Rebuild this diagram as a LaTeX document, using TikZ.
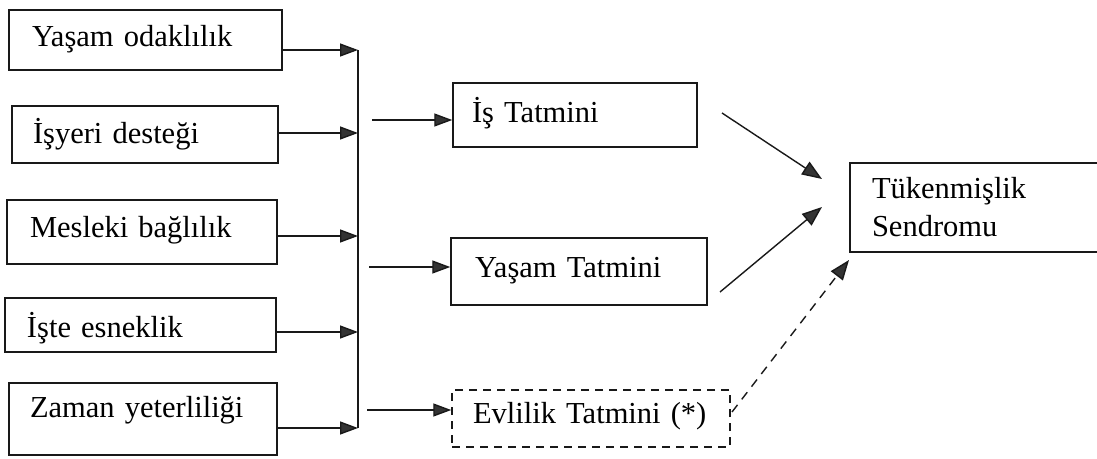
\documentclass[tikz,border=0pt]{standalone}
\usepackage{fontspec}
\setmainfont[WordSpace=0.75]{Liberation Serif}
\usetikzlibrary{arrows.meta}
\tikzset{
  box/.style={draw=black!90, line width=1.5pt, inner xsep=0pt, inner ysep=0pt,
    font=\fontsize{30.5pt}{38pt}\selectfont, text height=26pt},
  dbox/.style={box, dash pattern=on 8pt off 6pt},
  tbox/.style={draw=none, inner xsep=22pt, inner ysep=0pt,
    font=\fontsize{30.5pt}{38pt}\selectfont},
  frame/.style={line width=1.5pt, draw=black!90},
  arr/.style={line width=1.4pt, draw=black!90,
    -{Triangle[length=18pt,width=13pt,fill=black!80]}},
  bigarr/.style={line width=1.4pt, draw=black!90,
    -{Triangle[length=20pt,width=15pt,fill=black!80]}},
  darr/.style={bigarr, dash pattern=on 9pt off 7pt},
  bus/.style={line width=1.4pt, draw=black!90}
}
\begin{document}
\begin{tikzpicture}[x=1pt, y=-1pt]
  \fill[white] (0,0) rectangle (1097,458);
  \useasboundingbox (0,0) rectangle (1097,458);

  % left column: the five antecedents
  \node[box, minimum width=273pt, minimum height=60pt, text width=227pt, text depth=13pt]
    (b1) at (145.5,40) {Yaşam odaklılık};
  \node[box, minimum width=266pt, minimum height=57pt, text width=224pt, text depth=8pt]
    (b2) at (145,134.5) {İşyeri desteği};
  \node[box, minimum width=270pt, minimum height=64pt, text width=224pt, text depth=15pt]
    (b3) at (142,232) {Mesleki bağlılık};
  \node[box, minimum width=271pt, minimum height=54pt, text width=227pt, text depth=1pt]
    (b4) at (140.5,325) {İşte esneklik};
  \node[box, minimum width=268pt, minimum height=72pt, text width=226pt, text depth=29pt]
    (b5) at (143,419) {Zaman yeterliliği};

  % middle column: satisfaction measures
  \node[box, minimum width=244pt, minimum height=64pt, text width=206pt, text depth=11pt]
    (m1) at (575,115) {İş Tatmini};
  \node[box, minimum width=256pt, minimum height=67pt, text width=208pt, text depth=14pt]
    (m2) at (579,271.5) {Yaşam Tatmini};
  \node[dbox, minimum width=278pt, minimum height=57pt, text width=236pt, text depth=16pt]
    (m3) at (591,418.5) {Evlilik Tatmini (*)};

  % outcome box, open on the right
  \node[tbox, minimum width=250pt, minimum height=89pt, text width=206pt]
    (t) at (975,207.5) {Tükenmişlik\\Sendromu};
  \draw[frame] (t.north east) -- (t.north west) -- (t.south west) -- (t.south east);

  % collecting bus
  \coordinate (j1) at (358,50);
  \coordinate (j2) at (358,133);
  \coordinate (j3) at (358,236);
  \coordinate (j4) at (358,332);
  \coordinate (j5) at (358,428);
  \draw[bus] (j1) -- (j5);
  \draw[arr] (b1.east |- j1) -- (j1);
  \draw[arr] (b2.east |- j2) -- (j2);
  \draw[arr] (b3.east |- j3) -- (j3);
  \draw[arr] (b4.east |- j4) -- (j4);
  \draw[arr] (b5.east |- j5) -- (j5);

  % bus to the satisfaction boxes
  \coordinate (s1) at (372,120);
  \coordinate (s2) at (369,267);
  \coordinate (s3) at (367,410);
  \draw[arr] (s1) -- (m1.west |- s1);
  \draw[arr] (s2) -- (m2.west |- s2);
  \draw[arr] (s3) -- (m3.west |- s3);

  % paths to burnout
  \coordinate (p1) at (722,113);
  \coordinate (q1) at (822,179);
  \coordinate (p2) at (720,292);
  \coordinate (q2) at (822,207);
  \coordinate (p3) at (732,412);
  \coordinate (q3) at (849,260);
  \draw[bigarr] (p1) -- (q1);
  \draw[bigarr] (p2) -- (q2);
  \draw[darr] (p3) -- (q3);
\end{tikzpicture}
\end{document}
